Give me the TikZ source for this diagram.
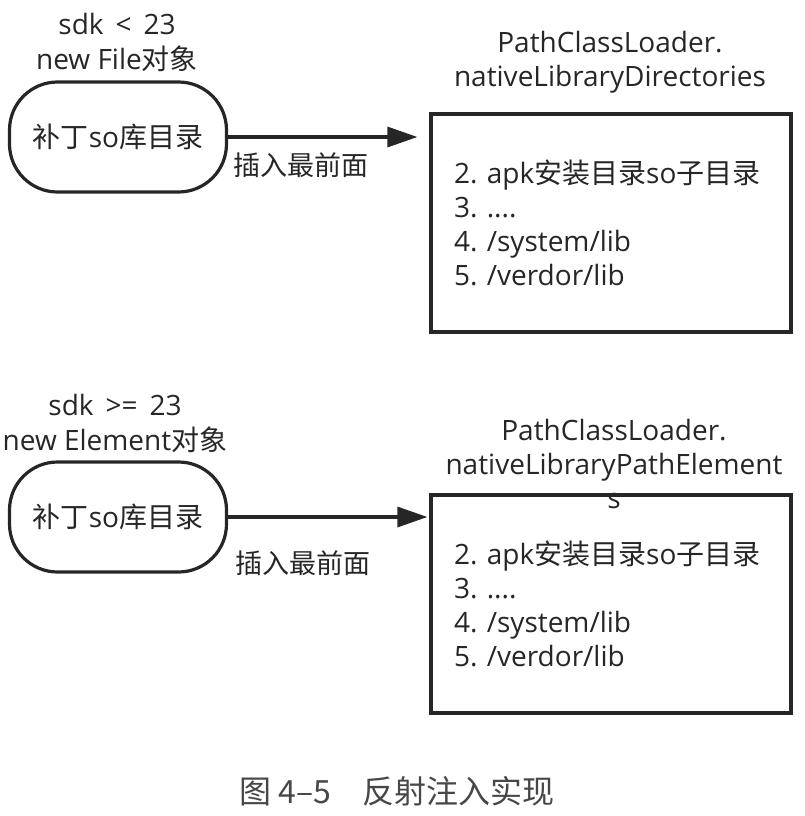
\documentclass[tikz,border=0pt]{standalone}
\usepackage{fontspec}
\setmainfont{Open Sans}
\newfontfamily\cjk{Noto Sans CJK SC}
\usetikzlibrary{arrows.meta}
\definecolor{ink}{HTML}{262626}
\frenchspacing

\begin{document}
\begin{tikzpicture}[x=1pt, y=-1pt, color=ink, text=ink,
    txt/.style={align=center, inner sep=0pt, font=\fontsize{28}{35}\selectfont},
    patch/.style={draw, rectangle, line width=3.2pt, rounded corners=48pt, minimum width=217pt, minimum height=110pt, font=\fontsize{28}{34}\selectfont},
    list/.style={draw, rectangle, line width=3.2pt, align=left, text width=314pt, inner xsep=23pt, minimum height=218pt, font=\fontsize{28}{34}\selectfont},
    insert/.style={-{Triangle[length=30pt, width=20pt]}, line width=3.2pt}]
  \useasboundingbox (0,0) rectangle (804,816);

  % sdk < 23
  \node[txt] (cond1) at (117,42) {sdk \,<\, 23\\new File{\cjk 对象}};
  \node[patch] (patch1) at (118,137) {{\cjk 补丁}so{\cjk 库目录}};
  \node[list] (list1) at (611,223) {2. apk{\cjk 安装目录}so{\cjk 子目录}\\3. ....\\4. /system/lib\\5. /verdor/lib};
  \node[txt, font=\fontsize{28}{34}\selectfont] (title1) at (610,62) {PathClassLoader.\\nativeLibraryDirectories};
  \node[txt, font=\fontsize{27}{35}\selectfont\cjk] (front1) at (301,165) {插入最前面};

  % sdk >= 23
  \node[txt] (cond2) at (115,423) {sdk \,>=\, 23\\new Element{\cjk 对象}};
  \node[patch] (patch2) at (118,517) {{\cjk 补丁}so{\cjk 库目录}};
  \node[list] (list2) at (611,604) {2. apk{\cjk 安装目录}so{\cjk 子目录}\\3. ....\\4. /system/lib\\5. /verdor/lib};
  \node[txt, font=\fontsize{28}{34}\selectfont] (title2) at (614,464) {PathClassLoader.\\nativeLibraryPathElement\\s};
  \node[txt, font=\fontsize{27}{35}\selectfont\cjk] (front2) at (303,563) {插入最前面};

  \draw[insert, shorten >=12pt] (patch1.east) -- (patch1.east -| list1.west);
  \draw[insert, shorten >=2pt] (patch2.east) -- (patch2.east -| list2.west);

  \node[txt, font=\fontsize{32}{36}\selectfont\cjk, text=ink!85] (caption) at (397,791) {图 4–5　反射注入实现};
\end{tikzpicture}
\end{document}
